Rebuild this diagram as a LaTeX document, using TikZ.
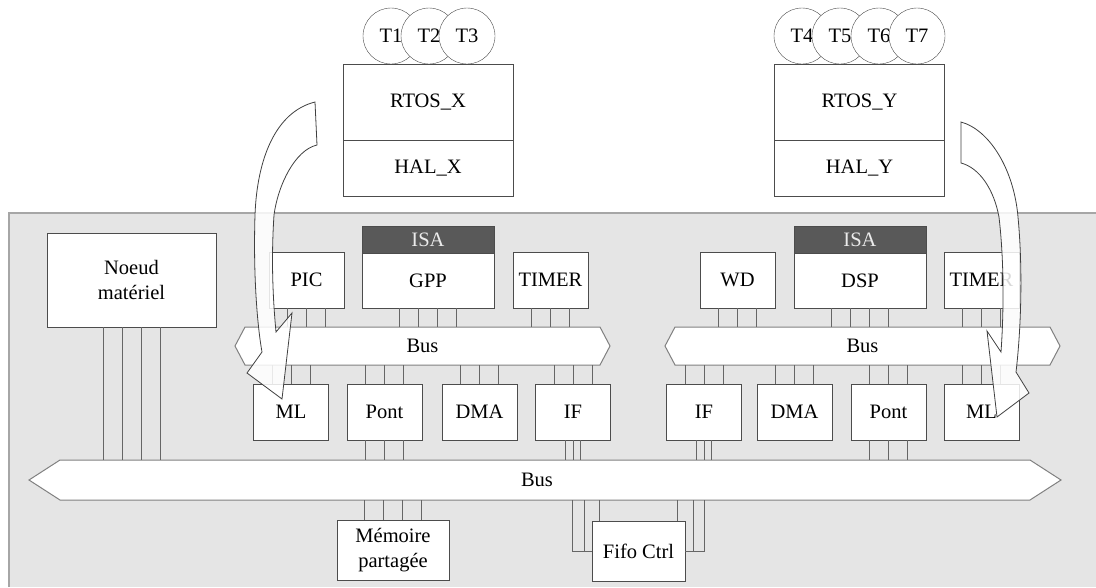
\documentclass[tikz,border=0pt]{standalone}
\usepackage{fontspec}
\setmainfont{Liberation Serif}
\usepackage{tikz}

\begin{document}
\begin{tikzpicture}[x=1pt,y=-1pt,font=\fontsize{20.5}{25}\selectfont,blk/.style={draw=black!70,fill=white,text=black,minimum width=75pt,minimum height=56pt,inner sep=1pt},osblk/.style={blk,minimum width=170pt},isa/.style={draw=black!70,fill=black!65,text=black!8,minimum width=132pt,minimum height=27pt,inner sep=0pt},task/.style={circle,draw=black!70,fill=white,text=black,minimum size=56pt,inner sep=0pt},wire/.style={draw=black!60,line width=0.9pt},busshape/.style={draw=black!50,fill=white,line width=1pt},busnode/.style={inner sep=0pt,minimum height=#1,text=black},migr/.style={draw=black!75,line width=0.8pt,fill=white,fill opacity=0.85}]
\useasboundingbox (0,0) rectangle (1096,587);
\fill[black!10] (9,213) rectangle (1096,587);
\draw[black!35,line width=1.5pt] (9,587) -- (9,213) -- (1096,213);
\foreach \n/\x in %
{1/391,2/429,3/467,4/802,5/840,6/879,7/917} {
   \node[task] (T\n) at (\x,36) {T\n};
}
\node[osblk,minimum height=76pt] (rtosX) at (428,102) {RTOS\_X};
\node[osblk] (halX) at (428,168) {HAL\_X};
\node[osblk,minimum height=76pt] (rtosY) at (859.5,102) {RTOS\_Y};
\node[osblk] (halY) at (859.5,168) {HAL\_Y};
\node[blk,minimum width=169pt,minimum height=94pt,align=center] (noeud) at (131.5,280) {Noeud\\mat\'eriel};
\node[blk] (PIC) at (306.5,280) {PIC};
\node[isa] (isaX) at (428,239.5) {ISA};
\node[blk,minimum width=132pt,minimum height=55pt] (GPP) at (428,280.5) {GPP};
\node[blk] (TIMa) at (550.5,280) {TIMER};
\node[blk] (WD) at (737.5,280) {WD};
\node[isa] (isaY) at (860,239.5) {ISA};
\node[blk,minimum width=132pt,minimum height=55pt] (DSP) at (860,280.5) {DSP};
\node[blk] (TIMb) at (981.5,280) {TIMER};
\foreach \n/\t/\x in %
{MLa/ML/291,Ponta/Pont/384.5,DMAa/DMA/479.5,IFa/IF/573,IFb/IF/704,DMAb/DMA/794.5,Pontb/Pont/888.5,MLb/ML/981.5} {
   \node[blk] (\n) at (\x,412) {\t};
}
\node[blk,minimum width=112pt,minimum height=60pt,align=center] (mem) at (393,550) {M\'emoire\\partag\'ee};
\node[blk,minimum width=93pt,minimum height=60pt] (fifo) at (638.5,551) {Fifo Ctrl};
\foreach \l/\r/\t/\b/\p in %
{245/600/327/365/10,675/1050/327/365/10,60/1030/460/500/31} {
   \draw[busshape] (\l,\t) -- (\r,\t) -- ({\r+\p},{(\t+\b)/2}) -- (\r,\b) -- (\l,\b) -- ({\l-\p},{(\t+\b)/2}) -- cycle;
}
\node[busnode=38pt] (busL) at (422.5,346) {Bus};
\node[busnode=38pt] (busR) at (862.5,346) {Bus};
\node[busnode=40pt] (busM) at (537,480) {Bus};
\foreach \n/\b in %
{PIC/busL,TIMa/busL,WD/busR,TIMb/busR} {
   \foreach \d in {-19,0,19}
      \draw[wire] ([xshift=\d]\n.south) -- ([xshift=\d]\n.south |- \b.north);
}
\foreach \n/\b in %
{GPP/busL,DSP/busR} {
   \foreach \d in {-28.5,-9.5,9.5,28.5}
      \draw[wire] ([xshift=\d]\n.south) -- ([xshift=\d]\n.south |- \b.north);
}
\foreach \n/\b in %
{MLa/busL,Ponta/busL,DMAa/busL,IFa/busL,IFb/busR,DMAb/busR,Pontb/busR,MLb/busR} {
   \foreach \d in {-19,0,19}
      \draw[wire] ([xshift=\d]\n.north) -- ([xshift=\d]\n.north |- \b.south);
}
\foreach \n/\d in %
{noeud/-28.5,noeud/-9.5,noeud/9.5,noeud/28.5,Ponta/-19,Ponta/0,Ponta/19,IFa/-7.5,IFa/0,IFa/7.5,IFb/-7.5,IFb/0,IFb/7.5,Pontb/-19,Pontb/0,Pontb/19} {
   \draw[wire] ([xshift=\d]\n.south) -- ([xshift=\d]\n.south |- busM.north);
}
\foreach \d in {-28.5,-9.5,9.5,28.5} {
   \draw[wire] ([xshift=\d]mem.north) -- ([xshift=\d]mem.north |- busM.south);
}
\foreach \d in {-39,39} {
   \draw[wire] ([xshift=\d]fifo.north) -- ([xshift=\d]fifo.north |- busM.south);
}
\foreach \d in {-54.5,54.5} {
   \draw[wire] ([xshift=\d]fifo.center) -- ([xshift=\d]fifo.center |- busM.south);
}
\draw[wire] (fifo.west) -| ([xshift=-66]fifo.north |- busM.south);
\draw[wire] (fifo.east) -| ([xshift=66]fifo.north |- busM.south);
\draw[migr] (315,102) .. controls (275,112) and (257,160) .. (255,215) .. controls (253,280) and (258,330) .. (262,352) -- (247,373) -- (282,399) -- (292,313) -- (276,332) .. controls (273,300) and (271,260) .. (274,215) .. controls (278,185) and (295,150) .. (317,145) -- cycle;
\draw[migr] (961,122) .. controls (990,130) and (1014,170) .. (1018,217) .. controls (1023,270) and (1021,330) .. (1016,372) -- (1029,393) -- (997,417) -- (987,331) -- (1001,352) .. controls (1004,310) and (1004,260) .. (999,217) .. controls (994,190) and (980,168) .. (961,163) -- cycle;
\end{tikzpicture}
\end{document}
